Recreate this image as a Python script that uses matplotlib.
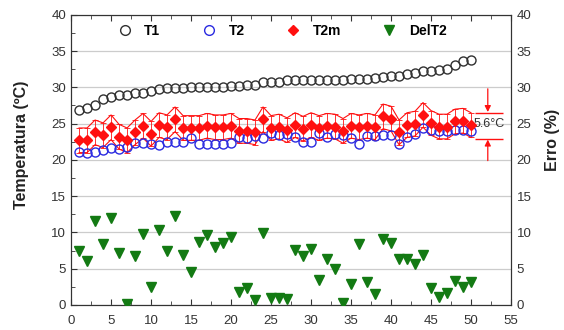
import numpy as np
import matplotlib
matplotlib.use("Agg")
import matplotlib.pyplot as plt
from matplotlib.lines import Line2D

plt.rcParams['font.family'] = ['Liberation Sans', 'DejaVu Sans']

# sample index
x = np.arange(1, 51)

# temperatures (degC)
t1 = [26.9, 27.1, 27.6, 28.4, 28.7, 28.9, 29.0, 29.2, 29.2, 29.5,
      29.8, 29.9, 29.9, 29.9, 30.0, 30.0, 30.0, 30.0, 30.0, 30.2,
      30.2, 30.3, 30.3, 30.8, 30.8, 30.8, 31.0, 31.0, 31.0, 31.0,
      31.0, 31.0, 31.0, 31.0, 31.1, 31.2, 31.2, 31.3, 31.4, 31.5,
      31.6, 31.8, 32.0, 32.2, 32.3, 32.4, 32.6, 33.1, 33.6, 33.8]
t2 = [21.1, 20.9, 21.1, 21.4, 21.6, 21.5, 21.8, 22.3, 22.3, 22.2,
      22.0, 22.4, 22.4, 22.5, 23.0, 22.2, 22.2, 22.2, 22.2, 22.3,
      23.2, 23.0, 23.3, 23.0, 23.7, 23.5, 23.6, 23.2, 22.5, 22.4,
      23.7, 23.2, 23.6, 23.4, 23.0, 22.2, 23.3, 23.3, 23.4, 23.5,
      22.2, 23.2, 23.6, 24.4, 24.1, 24.0, 24.0, 24.1, 24.1, 24.0]
t2m = [22.7, 22.7, 23.8, 23.4, 24.5, 23.2, 22.7, 23.8, 24.7, 23.6,
       24.8, 24.5, 25.6, 24.4, 24.4, 24.4, 24.7, 24.5, 24.5, 24.7,
       24.0, 24.0, 23.8, 25.6, 24.4, 24.6, 24.1, 24.8, 24.3, 24.8,
       24.4, 24.7, 24.6, 24.0, 24.7, 24.5, 24.7, 24.5, 26.0, 25.7,
       23.8, 24.8, 25.0, 26.2, 25.1, 24.6, 24.6, 25.3, 25.4, 24.8]
t2m_err = 1.7

# error (%) on right axis
delt2 = [7.4, 6.1, 11.6, 8.4, 12.0, 7.1, 0.1, 6.8, 9.8, 2.5,
         10.3, 7.4, 12.2, 6.9, 4.6, 8.7, 9.7, 8.0, 8.5, 9.3,
         1.8, 2.4, 0.7, 9.9, 0.9, 0.9, 0.8, 7.6, 6.8, 7.7,
         3.5, 6.3, 4.9, 0.2, 2.9, 8.4, 3.1, 1.5, 9.1, 8.6,
         6.4, 6.3, 5.7, 6.9, 2.4, 1.1, 1.6, 3.3, 2.5, 3.1]

fig = plt.figure(figsize=(5.64, 3.30), dpi=100)
ax = fig.add_axes([0.126, 0.076, 0.78, 0.879])
ax2 = ax.twinx()

red = '#ff1010'
t2m_arr = np.array(t2m)

# error band for T2m
ax.plot(x, t2m_arr + t2m_err, color=red, lw=0.8, zorder=2)
ax.plot(x, t2m_arr - t2m_err, color=red, lw=0.8, zorder=2)
ax.errorbar(x, t2m, yerr=t2m_err, fmt='none', ecolor=red, elinewidth=0.6,
            capsize=2, capthick=0.6, zorder=2)

ax.plot(x, t1, 'o', ms=6.5, mfc='none', mec='#303030', mew=1.0, zorder=3)
ax.plot(x, t2, 'o', ms=6.5, mfc='none', mec='#2a2ae0', mew=1.0, zorder=3)
ax.plot(x, t2m, 'D', ms=5.5, color=red, mec=red, zorder=4)

ax2.plot(x, delt2, 'v', ms=7.5, color='#137a13', zorder=3)

# 5.6 degC annotation
ax.hlines([26.5, 22.9], 50.5, 54, color=red, lw=1.0)
ax.annotate('', xy=(52.1, 26.6), xytext=(52.1, 29.8),
            arrowprops=dict(arrowstyle='-|>', color=red, lw=0.9,
                            mutation_scale=9, shrinkA=0, shrinkB=0))
ax.annotate('', xy=(52.1, 22.8), xytext=(52.1, 19.9),
            arrowprops=dict(arrowstyle='-|>', color=red, lw=0.9,
                            mutation_scale=9, shrinkA=0, shrinkB=0))
ax.text(52.3, 25.0, '5.6°C', fontsize=9, color='#333333',
        ha='center', va='center')

for a in (ax, ax2):
    a.set_xlim(0, 55)
    a.set_ylim(0, 40)
    for s in a.spines.values():
        s.set_color('#333333')
        s.set_linewidth(0.8)

ax.set_xticks(np.arange(0, 56, 5))
ax.set_xticks(np.arange(2.5, 55, 5), minor=True)
ax.set_yticks(np.arange(0, 41, 5))
ax.set_yticks(np.arange(2.5, 40, 5), minor=True)
ax.tick_params(which='both', direction='in', top=True, right=False,
               labelsize=9.5, labelcolor='#333333', color='#333333')
ax.tick_params(which='major', length=4)
ax.tick_params(which='minor', length=3)
ax.tick_params(axis='x', pad=7)
ax.grid(axis='y', color='#cccccc', lw=0.9)
ax.set_axisbelow(True)

ax2.set_yticks(np.arange(0, 41, 5))
ax2.tick_params(axis='y', length=0, labelsize=9.5, labelcolor='#333333', pad=4)

fig.text(22 / 564, 1 - 145 / 330, 'Temperatura (ºC)', rotation=90,
         ha='center', va='center', fontsize=11.5, fontweight='bold', color='#222222')
fig.text(553 / 564, 1 - 140 / 330, 'Erro (%)', rotation=90,
         ha='center', va='center', fontsize=11.5, fontweight='bold', color='#222222')

handles = [
    Line2D([], [], ls='none', marker='o', ms=7, mfc='none', mec='#303030', mew=1.0),
    Line2D([], [], ls='none', marker='o', ms=7, mfc='none', mec='#2a2ae0', mew=1.0),
    Line2D([], [], ls='none', marker='D', ms=5.5, color=red),
    Line2D([], [], ls='none', marker='v', ms=7.5, color='#137a13'),
]
leg = ax2.legend(handles, ['T1', 'T2', 'T2m', 'DelT2'], ncol=4, frameon=False,
                 loc='center', bbox_to_anchor=(0.48, 0.945),
                 handlelength=1.0, handletextpad=0.9, columnspacing=3.0,
                 prop={'weight': 'bold', 'size': 10})

fig.savefig('out.png', dpi=100)
